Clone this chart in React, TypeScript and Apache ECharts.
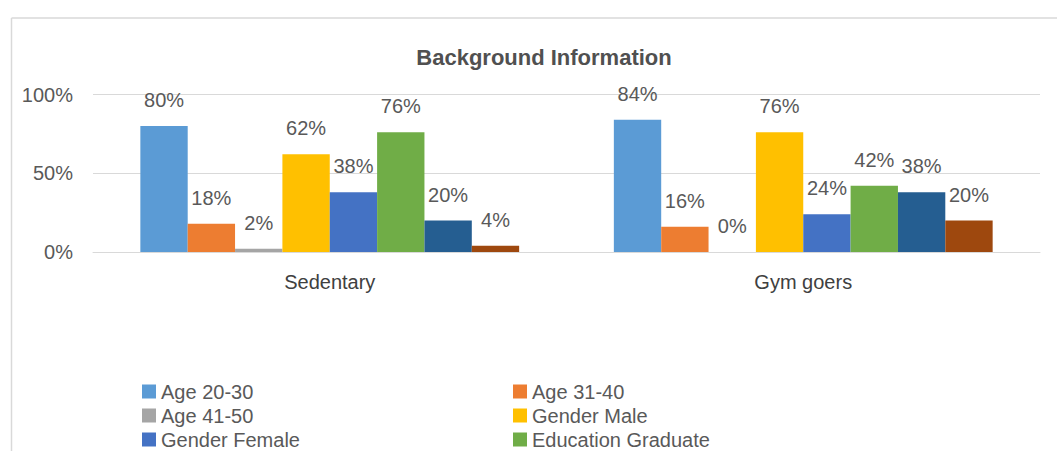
import React, { useEffect, useRef } from "react";
import * as echarts from "echarts";

const categories = ["Sedentary", "Gym goers"];
const seriesNames = [
  "Age 20-30",
  "Age 31-40",
  "Age 41-50",
  "Gender Male",
  "Gender Female",
  "Education Graduate",
  "Education Post Graduate",
  "Education Other",
];
const seriesColors = ["#5B9BD5", "#ED7D31", "#A5A5A5", "#FFC000", "#4472C4", "#70AD47", "#255E91", "#9E480E"];
const sedentaryValues = [80, 18, 2, 62, 38, 76, 20, 4];
const gymValues = [84, 16, 0, 76, 24, 42, 38, 20];
const yTicks = { min: 0, max: 100, interval: 50 };
const legendCol1 = ["Age 20-30", "Age 41-50", "Gender Female"];
const legendCol2 = ["Age 31-40", "Gender Male", "Education Graduate"];

const FONT = "'Liberation Sans', Arial, sans-serif";
const TEXT = "#595959";

export default function App() {
  const ref = useRef<HTMLDivElement>(null);
  useEffect(() => {
    if (!ref.current) return;
    const chart = echarts.init(ref.current, undefined, { renderer: "svg" });
    const legendBase = {
      orient: "horizontal",
      padding: 0,
      itemWidth: 14,
      itemHeight: 14,
      icon: "rect",
      textStyle: { fontFamily: FONT, fontSize: 20, color: TEXT, lineHeight: 20 },
    };
    const rowTops = [381.5, 405.5, 429.5];
    const legends: any[] = [];
    legendCol1.forEach((n, i) => legends.push({ ...legendBase, left: 142, top: rowTops[i], data: [n] }));
    legendCol2.forEach((n, i) => legends.push({ ...legendBase, left: 513, top: rowTops[i], data: [n] }));
    chart.setOption({
      animation: false,
      backgroundColor: "#ffffff",
      title: {
        text: "Background Information",
        left: 539,
        top: 41,
        textAlign: "center",
        textStyle: { fontFamily: FONT, fontSize: 22, fontWeight: "bold", color: "#505050" },
      },
      graphic: [
        { type: "line", shape: { x1: 11.5, y1: 18, x2: 1057, y2: 18 }, style: { stroke: "#d9d9d9", lineWidth: 1.5 } },
        { type: "line", shape: { x1: 11.5, y1: 18, x2: 11.5, y2: 451 }, style: { stroke: "#d9d9d9", lineWidth: 1.5 } },
      ],
      legend: legends,
      grid: { left: 93, right: 17, top: 94.5, bottom: 199 },
      xAxis: {
        type: "category",
        data: categories,
        axisTick: { show: false },
        axisLine: { lineStyle: { color: "#d9d9d9", width: 1 } },
        axisLabel: { fontFamily: FONT, fontSize: 20, color: "#404040", margin: 20 },
      },
      yAxis: {
        type: "value",
        min: yTicks.min,
        max: yTicks.max,
        interval: yTicks.interval,
        axisLine: { show: false },
        axisTick: { show: false },
        splitLine: { lineStyle: { color: "#d9d9d9", width: 1 } },
        axisLabel: { fontFamily: FONT, fontSize: 20, color: TEXT, margin: 20, formatter: "{value}%" },
      },
      series: seriesNames.map((name, i) => ({
        name,
        type: "bar",
        barGap: "0%",
        barCategoryGap: "20%",
        itemStyle: { color: seriesColors[i] },
        label: {
          show: true,
          position: "top",
          distance: 16,
          formatter: "{c}%",
          fontFamily: FONT,
          fontSize: 20,
          color: TEXT,
        },
        data: [sedentaryValues[i], gymValues[i]],
      })),
    });
    return () => chart.dispose();
  }, []);
  return <div ref={ref} style={{ position: "fixed", left: 0, top: 0, width: 1057, height: 451 }} />;
}
